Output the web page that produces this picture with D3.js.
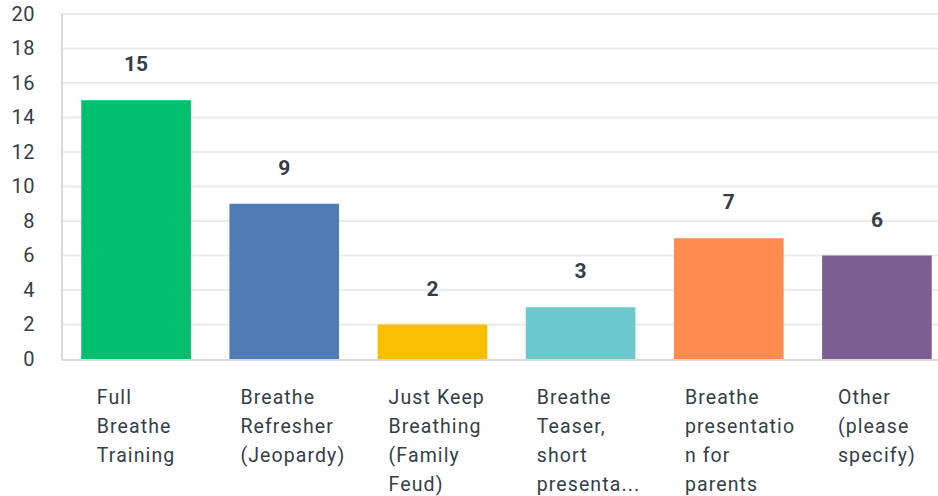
<!DOCTYPE html>
<html>
<head>
<meta charset="utf-8">
<script src="https://cdn.jsdelivr.net/npm/d3@7"></script>
<style>
  body { margin: 0; background: #fff; }
  svg { display: block; }
  text { font-family: Roboto, "Noto Sans", sans-serif; fill: #333e48; }
</style>
</head>
<body>
<svg id="chart"></svg>
<script>
const categories = [
  ['Full', 'Breathe', 'Training'],
  ['Breathe', 'Refresher', '(Jeopardy)'],
  ['Just Keep', 'Breathing', '(Family', 'Feud)'],
  ['Breathe', 'Teaser,', 'short', 'presenta...'],
  ['Breathe', 'presentatio', 'n for', 'parents'],
  ['Other', '(please', 'specify)']
];
const values = [15, 9, 2, 3, 7, 6];
const colors = ['#00bf6f', '#507cb6', '#f9be00', '#6bc8cd', '#ff8b4f', '#7d5e90'];
const yTicks = [0, 2, 4, 6, 8, 10, 12, 14, 16, 18, 20];

const width = 938, height = 496;
const plotLeft = 62, plotTop = 14, plotBottom = 359;

const svg = d3.select('#chart').attr('width', width).attr('height', height);

const x = d3.scaleBand()
  .domain(d3.range(values.length))
  .range([plotLeft, 951])
  .paddingInner(0.26)
  .paddingOuter(0.13);

const y = d3.scaleLinear().domain([0, 20]).range([plotBottom, plotTop]);

// gridlines
svg.append('g')
  .selectAll('line')
  .data(yTicks.filter(d => d > 0))
  .enter()
  .append('line')
  .attr('x1', plotLeft)
  .attr('x2', width)
  .attr('y1', d => y(d))
  .attr('y2', d => y(d))
  .attr('stroke', '#ebebeb')
  .attr('stroke-width', 2);

// y axis
const yAxis = svg.append('g')
  .attr('transform', 'translate(' + plotLeft + ',0)')
  .call(d3.axisLeft(y).tickValues(yTicks).tickSize(0).tickPadding(27));
yAxis.select('.domain').remove();
yAxis.selectAll('text')
  .style('font-size', '20px')
  .style('letter-spacing', '0.5px')
  .style('font-family', 'Roboto, "Noto Sans", sans-serif')
  .attr('fill', '#333e48');

// axis lines
svg.append('line')
  .attr('x1', plotLeft).attr('x2', plotLeft)
  .attr('y1', plotTop - 1).attr('y2', plotBottom + 1)
  .attr('stroke', '#d9d9d9').attr('stroke-width', 2);
svg.append('line')
  .attr('x1', plotLeft).attr('x2', width)
  .attr('y1', plotBottom + 1).attr('y2', plotBottom + 1)
  .attr('stroke', '#d9d9d9').attr('stroke-width', 2);

// bars
svg.append('g')
  .selectAll('rect')
  .data(values)
  .enter()
  .append('rect')
  .attr('x', (d, i) => x(i))
  .attr('y', d => y(d))
  .attr('width', x.bandwidth())
  .attr('height', d => y(0) - y(d))
  .attr('fill', (d, i) => colors[i]);

// value labels
svg.append('g')
  .selectAll('text')
  .data(values)
  .enter()
  .append('text')
  .attr('x', (d, i) => x(i) + x.bandwidth() / 2)
  .attr('y', d => y(d) - 29)
  .attr('text-anchor', 'middle')
  .style('font-size', '21px')
  .style('font-weight', 'bold')
  .text(d => d);

// category labels: left aligned, indented into the band, centred when narrow
categories.forEach((lines, i) => {
  const t = svg.append('text')
    .style('font-size', '19.5px')
    .style('letter-spacing', '1.1px');
  lines.forEach((line, j) => {
    t.append('tspan')
      .attr('y', 404 + j * 29)
      .text(line);
  });
  let maxW = 0;
  t.selectAll('tspan').each(function () {
    maxW = Math.max(maxW, this.getComputedTextLength());
  });
  const x0 = Math.max(x(i) + 11, x(i) + x.bandwidth() / 2 - maxW / 2);
  t.selectAll('tspan').attr('x', x0);
});
</script>
</body>
</html>
